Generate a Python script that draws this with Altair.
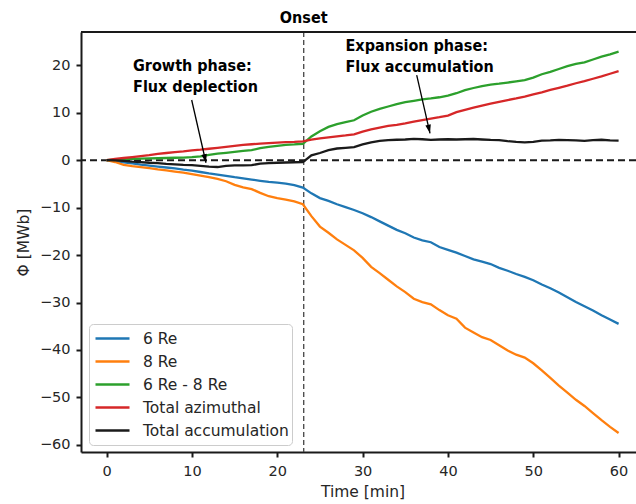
import math
import altair as alt
import pandas as pd

# ---------------- data ----------------
time = list(range(0, 61))

six_re = [0, -0.2, -0.45, -0.7, -0.95, -1.15, -1.35, -1.55, -1.75, -2.0,
          -2.2, -2.5, -2.8, -3.05, -3.3, -3.6, -3.85, -4.1, -4.35, -4.6,
          -4.75, -4.95, -5.25, -5.8, -7.0, -8.0, -8.6, -9.3, -9.9, -10.5,
          -11.2, -12.0, -12.9, -13.8, -14.7, -15.4, -16.3, -16.9, -17.3, -18.3,
          -18.9, -19.5, -20.2, -20.9, -21.4, -21.9, -22.7, -23.3, -24.0, -24.6,
          -25.3, -26.2, -27.0, -27.9, -28.9, -29.9, -30.8, -31.7, -32.7, -33.6,
          -34.5]

eight_re = [0, -0.4, -1.0, -1.25, -1.45, -1.7, -1.95, -2.15, -2.4, -2.65,
            -2.95, -3.25, -3.6, -3.95, -4.45, -5.2, -5.75, -6.1, -6.9, -7.6,
            -8.0, -8.3, -8.7, -9.3, -11.8, -14.0, -15.3, -16.7, -17.85, -19.0,
            -20.6, -22.5, -23.8, -25.2, -26.6, -27.8, -29.2, -29.9, -30.4, -31.6,
            -32.7, -33.4, -35.3, -36.3, -37.3, -37.9, -39.0, -40.1, -41.0, -41.6,
            -42.8, -44.3, -45.9, -47.5, -49.0, -50.5, -51.8, -53.3, -54.8, -56.2,
            -57.5]

six_minus_eight = [0, 0.1, 0.2, 0.25, 0.3, 0.35, 0.4, 0.45, 0.5, 0.55,
                   0.65, 0.8, 1.1, 1.35, 1.55, 1.75, 1.95, 2.1, 2.55, 2.8,
                   3.0, 3.2, 3.3, 3.45, 5.0, 6.1, 7.0, 7.6, 8.0, 8.4,
                   9.4, 10.2, 10.8, 11.3, 11.8, 12.2, 12.5, 12.8, 13.0, 13.25,
                   13.6, 14.1, 14.75, 15.2, 15.6, 15.9, 16.1, 16.35, 16.6, 16.85,
                   17.4, 18.1, 18.6, 19.2, 19.8, 20.3, 20.6, 21.2, 21.8, 22.3,
                   22.85]

total_azimuthal = [0, 0.25, 0.45, 0.65, 0.85, 1.05, 1.3, 1.5, 1.7, 1.85,
                   2.05, 2.2, 2.4, 2.6, 2.8, 3.0, 3.2, 3.35, 3.5, 3.6,
                   3.7, 3.8, 3.85, 3.95, 4.3, 4.6, 4.8, 5.0, 5.2, 5.45,
                   6.0, 6.5, 6.85, 7.2, 7.45, 7.75, 8.1, 8.45, 8.75, 9.05,
                   9.4, 10.1, 10.6, 11.05, 11.5, 11.9, 12.3, 12.65, 13.0, 13.4,
                   13.85, 14.3, 14.8, 15.25, 15.7, 16.2, 16.65, 17.15, 17.65, 18.2,
                   18.75]

total_accumulation = [0, -0.05, -0.15, -0.3, -0.4, -0.55, -0.65, -0.8, -0.9, -1.0,
                      -1.05, -1.2, -1.35, -1.45, -1.2, -1.1, -1.1, -1.05, -0.75, -0.65,
                      -0.55, -0.5, -0.45, -0.4, 1.0, 1.5, 2.1, 2.45, 2.6, 2.75,
                      3.3, 3.75, 4.05, 4.2, 4.3, 4.35, 4.5, 4.4, 4.25, 4.35,
                      4.4, 4.35, 4.4, 4.45, 4.35, 4.25, 4.2, 4.0, 3.85, 3.75,
                      3.85, 4.1, 4.15, 4.25, 4.2, 4.15, 4.05, 4.2, 4.3, 4.15,
                      4.1]

series_names = ["6 Re", "8 Re", "6 Re - 8 Re", "Total azimuthal", "Total accumulation"]
series_values = [six_re, eight_re, six_minus_eight, total_azimuthal, total_accumulation]
series_colors = ["#1f77b4", "#ff7f0e", "#2ca02c", "#d62728", "#1a1a1a"]

onset_time = 23.1
onset_label = "Onset"

annot_lines = ["Growth phase:", "Flux deplection", "Expansion phase:", "Flux accumulation"]
annot_x = [3.1, 3.1, 28.0, 28.0]
annot_y = [18.8, 14.3, 23.1, 18.6]

arrow_x_start = [9.97, 36.34]
arrow_y_start = [12.67, 17.93]
arrow_x_tip = [11.65, 37.9]
arrow_y_tip = [-0.55, 5.65]

x_ticks = [0, 10, 20, 30, 40, 50, 60]
y_ticks = [-60, -50, -40, -30, -20, -10, 0, 10, 20]

# ---------------- layout ----------------
W, H = 555, 420
x_domain = [-3.0, 62.04]
y_domain = [-61.5, 27.0]
TXT = "#262626"
INK = "#1a1a1a"
FONT = "DejaVu Sans"
NARROW = "DejaVu Sans Condensed, Liberation Sans Narrow, Roboto Condensed, Roboto, sans-serif"

rows = []
for name, vals in zip(series_names, series_values):
    for t, v in zip(time, vals):
        rows.append({"time": t, "value": v, "series": name})
df = pd.DataFrame(rows)

sx = W / (x_domain[1] - x_domain[0])
sy = H / (y_domain[1] - y_domain[0])
angles = []
for x0, y0, x1, y1 in zip(arrow_x_start, arrow_y_start, arrow_x_tip, arrow_y_tip):
    dx = (x1 - x0) * sx
    dy = (y0 - y1) * sy
    angles.append((360 - math.degrees(math.atan2(dx, dy))) % 360)
arrows = pd.DataFrame({"x0": arrow_x_start, "y0": arrow_y_start,
                       "x1": arrow_x_tip, "y1": arrow_y_tip, "angle": angles})
annots = pd.DataFrame({"x": annot_x, "y": annot_y, "text": annot_lines})

xscale = alt.Scale(domain=x_domain, nice=False, zero=False)
yscale = alt.Scale(domain=y_domain, nice=False, zero=False)

x_axis = alt.Axis(values=x_ticks, format="d", grid=False, title="Time [min]",
                  domainWidth=2, domainColor=INK, tickSize=5, tickWidth=2, tickColor=INK,
                  labelFont=FONT, labelFontSize=14.5, labelColor=TXT, labelPadding=7,
                  labelFlush=False, labelOverlap=False,
                  titleFont=FONT, titleFontSize=15.5, titleFontWeight="normal",
                  titleColor=TXT, titlePadding=7, titleX=281.5)
y_axis = alt.Axis(values=y_ticks, format="d", grid=False, title="Φ [MWb]",
                  domainWidth=2, domainColor=INK, tickSize=5, tickWidth=2, tickColor=INK,
                  labelFont=FONT, labelFontSize=14.5, labelColor=TXT, labelPadding=6,
                  labelFlush=False, labelOverlap=False,
                  titleFont=FONT, titleFontSize=15.5, titleFontWeight="normal",
                  titleColor=TXT, titlePadding=8)


def X(field):
    return alt.X(field, type="quantitative", scale=xscale, axis=x_axis)


def Y(field):
    return alt.Y(field, type="quantitative", scale=yscale, axis=y_axis)


zero_line = alt.Chart(pd.DataFrame({"y": [0.0]})).mark_rule(
    strokeDash=[7, 4], strokeWidth=2, color=INK
).encode(y=Y("y"))

onset_line = alt.Chart(pd.DataFrame({"x": [onset_time]})).mark_rule(
    strokeDash=[5, 3], strokeWidth=1.3, color="#444444"
).encode(x=X("x"))

lines = alt.Chart(df).mark_line(strokeWidth=2.3).encode(
    x=X("time"),
    y=Y("value"),
    color=alt.Color("series:N",
                    scale=alt.Scale(domain=series_names, range=series_colors),
                    legend=alt.Legend(title=None, orient="none", legendX=8, legendY=292,
                                      symbolType="stroke", symbolSize=1156,
                                      symbolStrokeWidth=2.6, labelFont=FONT,
                                      labelFontSize=15.5, labelColor=TXT,
                                      clipHeight=23, rowPadding=0, padding=3,
                                      symbolOffset=2, labelOffset=12, labelLimit=400,
                                      strokeColor="#cccccc",
                                      fillColor="rgba(255,255,255,0.85)",
                                      cornerRadius=4)),
)

shafts = alt.Chart(arrows).mark_rule(strokeWidth=1.3, color="black").encode(
    x=X("x0"), y=Y("y0"), x2="x1", y2="y1"
)
heads = alt.Chart(arrows).mark_point(
    shape="M0,0L-0.32,-1L0.32,-1Z", filled=True, size=300, color="black", opacity=1
).encode(x=X("x1"), y=Y("y1"), angle=alt.Angle("angle:Q", scale=None))

texts = alt.Chart(annots).mark_text(
    font=NARROW, fontWeight="bold", fontSize=16, align="left", baseline="alphabetic",
    color="black"
).encode(x=X("x"), y=Y("y"), text="text:N")

onset_text = alt.Chart(pd.DataFrame({"x": [onset_time], "t": [onset_label]})).mark_text(
    font=NARROW, fontWeight="bold", fontSize=16, align="center", baseline="alphabetic",
    color="black"
).encode(x=X("x"), y=alt.value(-9), text="t:N")

top_spine = alt.Chart(pd.DataFrame({"x": [0]})).mark_rule(strokeWidth=2, color=INK).encode(
    x=alt.value(0), x2=alt.value(W), y=alt.value(0)
)

chart = alt.layer(
    zero_line, onset_line, lines, shafts, heads, texts, onset_text, top_spine
).properties(
    width=W, height=H,
    padding={"left": 81, "top": 32, "right": 0, "bottom": 52},
    autosize=alt.AutoSizeParams(type="none"),
    background="white",
).configure_view(strokeWidth=0)

chart.save("out.html", embed_options={"renderer": "svg", "actions": False})
